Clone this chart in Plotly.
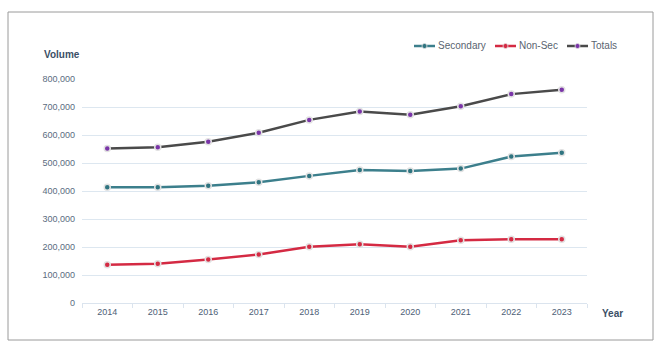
import plotly.graph_objects as go

years = ["2014", "2015", "2016", "2017", "2018", "2019", "2020", "2021", "2022", "2023"]
secondary = [413000, 413000, 419000, 431000, 454000, 475000, 471000, 480000, 523000, 537000]
non_sec = [137000, 140000, 155000, 173000, 201000, 210000, 201000, 224000, 228000, 228000]
totals = [552000, 556000, 576000, 608000, 654000, 684000, 672000, 703000, 746000, 762000]
y_ticks = [0, 100000, 200000, 300000, 400000, 500000, 600000, 700000, 800000]

series = [
    ("Secondary", secondary, "#3c7f8c", "#2f7480"),
    ("Non-Sec", non_sec, "#d42a43", "#d42a43"),
    ("Totals", totals, "#4a4a4a", "#7a35a8"),
]

L, R, T, B = 82, 83, 79, 46
W, H = 670, 349
pw, ph = W - L - R, H - T - B

def px(x):
    return (x - L) / pw

def py(y):
    return (H - B - y) / ph

fig = go.Figure()
for name, vals, lc, mc in series:
    fig.add_trace(go.Scatter(
        x=years, y=vals, name=name, mode="lines+markers",
        line=dict(color=lc, width=2.5),
        marker=dict(color=mc, size=6, line=dict(color="#e2e2e2", width=1.5)),
    ))

# custom compact legend (line + dot + label)
legend_x = [414, 495, 567]
legend_y = 46
shapes = [dict(
    type="rect", xref="paper", yref="paper",
    x0=px(8), x1=px(653), y0=py(340), y1=py(12),
    line=dict(color="#9a9a9a", width=1), fillcolor="rgba(0,0,0,0)", layer="below",
)]
annotations = [
    dict(text="<b>Volume</b>", xref="paper", yref="paper", x=px(42), y=py(54),
         xanchor="left", yanchor="middle", showarrow=False,
         font=dict(size=10, color="#3b4f66")),
    dict(text="<b>Year</b>", xref="paper", yref="paper", x=px(600), y=py(313),
         xanchor="left", yanchor="middle", showarrow=False,
         font=dict(size=10, color="#3b4f66")),
]
for (name, vals, lc, mc), lx in zip(series, legend_x):
    shapes.append(dict(type="line", xref="paper", yref="paper",
                       x0=px(lx), x1=px(lx + 21), y0=py(legend_y), y1=py(legend_y),
                       line=dict(color=lc, width=2.5)))
    shapes.append(dict(type="circle", xref="paper", yref="paper",
                       x0=px(lx + 8), x1=px(lx + 13), y0=py(legend_y + 2.5), y1=py(legend_y - 2.5),
                       line=dict(color="#e2e2e2", width=0.8), fillcolor=mc))
    annotations.append(dict(text=name, xref="paper", yref="paper", x=px(lx + 22), y=py(legend_y),
                            xanchor="left", yanchor="middle", showarrow=False,
                            font=dict(size=10, color="#5a6470")))

fig.update_layout(
    width=W, height=H,
    margin=dict(l=L, r=R, t=T, b=B),
    paper_bgcolor="white", plot_bgcolor="white",
    font=dict(family="Liberation Sans, Arial, sans-serif", size=9, color="#5a6c80"),
    showlegend=False,
    xaxis=dict(
        type="category", showgrid=False, zeroline=False,
        showline=True, linecolor="#dbe4ee", linewidth=1,
        ticks="outside", tickson="boundaries", ticklen=4, tickcolor="#dbe4ee",
        tickfont=dict(size=9, color="#4e6177"),
        range=[-0.5, 9.5],
    ),
    yaxis=dict(
        range=[0, 800000], tickvals=y_ticks, tickformat=",d",
        showgrid=True, gridcolor="#dde7f0", gridwidth=1,
        zeroline=False, showline=False, ticks="", ticklabelstandoff=6,
        tickfont=dict(size=9, color="#5a6c80"),
    ),
    shapes=shapes,
    annotations=annotations,
)

fig.write_html("out.html")
